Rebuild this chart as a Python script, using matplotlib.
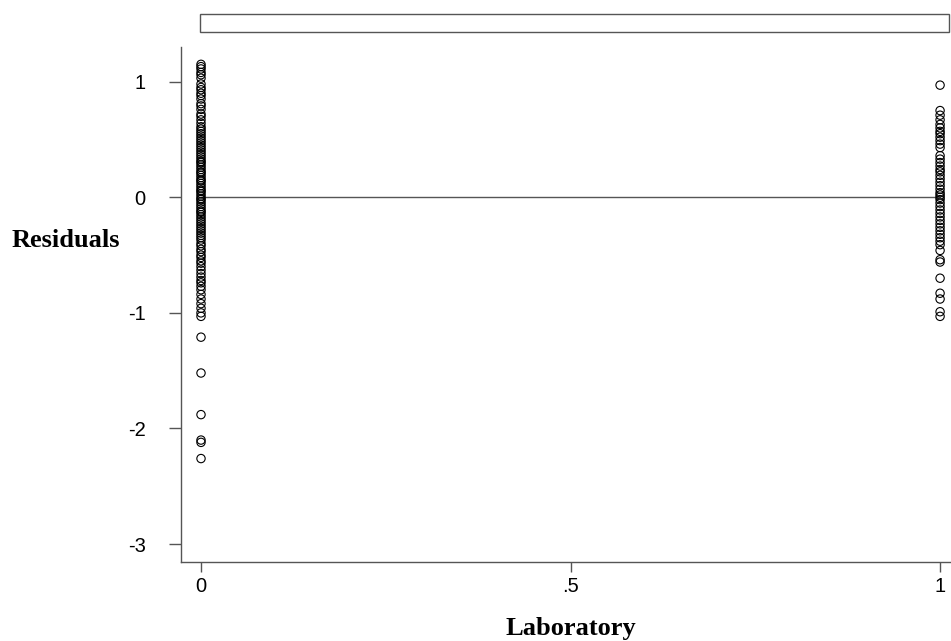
import matplotlib
matplotlib.use('Agg')
import matplotlib.pyplot as plt
from matplotlib.patches import Rectangle

plt.rcParams['axes.unicode_minus'] = False

# residuals for laboratory = 0
resid_lab0 = [1.15, 1.13, 1.11, 1.08, 1.06, 1.03, 0.98, 0.95, 0.93, 0.90,
              0.88, 0.85, 0.81, 0.79, 0.76, 0.72, 0.70, 0.67, 0.64, 0.61,
              0.59, 0.57, 0.55, 0.53, 0.51, 0.49, 0.47, 0.45, 0.43, 0.41,
              0.39, 0.37, 0.35, 0.33, 0.31, 0.30, 0.28, 0.26, 0.24, 0.22,
              0.21, 0.19, 0.17, 0.15, 0.14, 0.12, 0.10, 0.08, 0.06, 0.05,
              0.03, 0.01, -0.01, -0.02, -0.04, -0.06, -0.08, -0.10, -0.12, -0.13,
              -0.15, -0.17, -0.19, -0.21, -0.23, -0.25, -0.27, -0.29, -0.31, -0.33,
              -0.35, -0.37, -0.40, -0.42, -0.45, -0.47, -0.50, -0.52, -0.55, -0.57,
              -0.60, -0.63, -0.66, -0.69, -0.72, -0.74, -0.77, -0.80, -0.84, -0.88,
              -0.92, -0.96, -1.00, -1.03, -1.21, -1.52, -1.88, -2.10, -2.12, -2.26]

# residuals for laboratory = 1
resid_lab1 = [0.97, 0.75, 0.71, 0.67, 0.63, 0.60, 0.57, 0.55, 0.52, 0.49,
              0.46, 0.43, 0.36, 0.33, 0.30, 0.27, 0.24, 0.22, 0.19, 0.16,
              0.13, 0.10, 0.07, 0.04, 0.02, 0.00, -0.02, -0.05, -0.08, -0.11,
              -0.14, -0.17, -0.20, -0.23, -0.26, -0.29, -0.32, -0.35, -0.38, -0.41,
              -0.46, -0.54, -0.56, -0.70, -0.83, -0.88, -0.99, -1.03]

xticks = [0, 0.5, 1]
xticklabels = ['0', '.5', '1']
yticks = [-3, -2, -1, 0, 1]
yticklabels = ['-3', '-2', '-1', '0', '1']

line_col = '#555555'

fig = plt.figure(figsize=(9.51, 6.41), dpi=100)
ax = fig.add_axes([0.1903, 0.1232, 0.8087, 0.8035])

ax.scatter([0] * len(resid_lab0), resid_lab0, s=36, facecolors='none',
           edgecolors='black', linewidths=0.8, zorder=3)
ax.scatter([1] * len(resid_lab1), resid_lab1, s=36, facecolors='none',
           edgecolors='black', linewidths=0.8, zorder=3)
ax.plot([0, 1], [0, 0], color=line_col, lw=1.0, zorder=2)

ax.set_xlim(-0.0271, 1.0135)
ax.set_ylim(-3.155, 1.30)
ax.set_xticks(xticks)
ax.set_xticklabels(xticklabels)
ax.set_yticks(yticks)
ax.set_yticklabels(yticklabels)

for s in ['top', 'right']:
    ax.spines[s].set_visible(False)
for s in ['left', 'bottom']:
    ax.spines[s].set_color(line_col)
    ax.spines[s].set_linewidth(1.0)

ax.tick_params(axis='x', direction='out', length=7.5, width=1.0, color=line_col,
               pad=3, labelsize=14.5)
ax.tick_params(axis='y', direction='out', length=8.5, width=1.0, color=line_col,
               pad=17, labelsize=14.5)
for lab in ax.get_xticklabels() + ax.get_yticklabels():
    lab.set_fontfamily('Liberation Sans')

fig.text(0.012, 0.625, 'Residuals', fontsize=19, fontweight='bold',
         family='Liberation Serif', ha='left', va='center')
fig.text(0.6, 0.02, 'Laboratory', fontsize=19, fontweight='bold',
         family='Liberation Serif', ha='center', va='center')

# empty title strip at the top
fig.patches.append(Rectangle((0.2103, 0.950), 0.788, 0.028, transform=fig.transFigure,
                             fill=False, edgecolor=line_col, lw=1.0))

fig.savefig('out.png', dpi=100)
